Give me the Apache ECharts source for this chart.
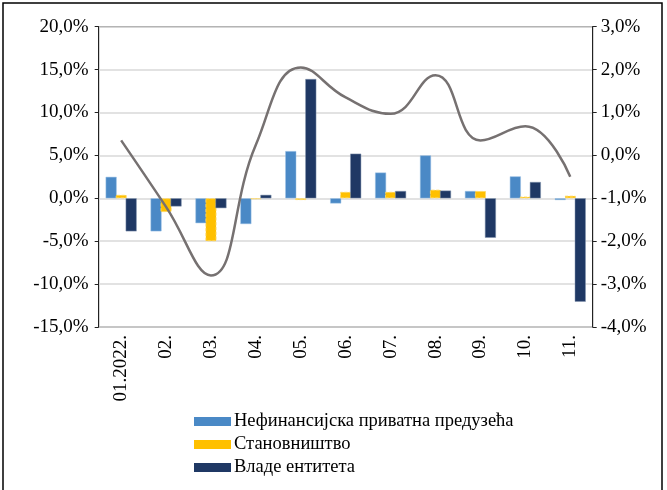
<!DOCTYPE html>
<html>
<head>
<meta charset="utf-8">
<script src="https://cdn.jsdelivr.net/npm/echarts@6/dist/echarts.min.js"></script>
<style>
  html, body { margin: 0; padding: 0; background: #fff; }
  #chart { width: 667px; height: 490px; }
</style>
</head>
<body>
<div id="chart"></div>
<script>
// categories (months)
const months = ['01.2022.', '02.', '03.', '04.', '05.', '06.', '07.', '08.', '09.', '10.', '11.'];
// bars, left axis (%)
const nefinansijska = [2.5, -3.85, -2.9, -3.0, 5.5, -0.6, 3.0, 5.0, 0.85, 2.55, -0.2];
const stanovnistvo = [0.4, -1.6, -5.0, -0.1, -0.2, 0.75, 0.75, 1.0, 0.85, 0.2, 0.3];
const vladeEntiteta = [-3.85, -0.95, -1.15, 0.4, 13.9, 5.2, 0.85, 0.9, -4.6, 1.9, -12.05];
// line, right axis (%)
const ukupno = [0.35, -1.2, -2.8, 0.25, 2.05, 1.35, 0.97, 1.87, 0.35, 0.68, -0.5];

const serif = 'Liberation Serif';
const fmt = v => v.toFixed(1).replace('.', ',') + '%';

const myChart = echarts.init(document.getElementById('chart'));
let option = {
    animation: false,
    textStyle: { fontFamily: serif },
    grid: { left: 98.7, right: 74.3, top: 26.7, bottom: 163, show: true, borderColor: '#222', borderWidth: 1, containLabel: false },
    legend: {
        orient: 'vertical', left: 189, top: 407,
        icon: 'rect', itemWidth: 37, itemHeight: 9, itemGap: 4,
        itemStyle: { borderWidth: 0 },
        textStyle: { fontFamily: serif, fontSize: 18.5, color: '#000', lineHeight: 19, padding: [0, 0, 0, -2] },
        data: ['Нефинансијска приватна предузећа', 'Становништво', 'Владе ентитета']
    },
    graphic: [
        { type: 'rect', shape: { x: 3, y: 3, width: 659, height: 495 }, style: { fill: 'none', stroke: '#000', lineWidth: 1.5 }, silent: true }
    ],
    xAxis: {
        type: 'category', data: months, position: 'bottom',
        axisLine: { show: false }, axisTick: { show: false },
        axisLabel: { rotate: 90, fontFamily: serif, fontSize: 19, color: '#000', margin: 8 }
    },
    yAxis: [
        {
            type: 'value', min: -15, max: 20, interval: 5,
            axisLine: { show: true, lineStyle: { color: '#222' } },
            axisTick: { show: true, length: 4, lineStyle: { color: '#222' } },
            splitLine: { show: true, lineStyle: { color: '#d9d9d9', width: 1.5 } },
            axisLabel: { formatter: fmt, fontFamily: serif, fontSize: 19, color: '#000', margin: 10 }
        },
        {
            type: 'value', min: -4, max: 3, interval: 1,
            axisLine: { show: true, lineStyle: { color: '#222' } },
            axisTick: { show: true, length: 4, lineStyle: { color: '#222' } },
            splitLine: { show: false },
            axisLabel: { formatter: fmt, fontFamily: serif, fontSize: 19, color: '#000', margin: 8 }
        }
    ],
    series: [
        {
            name: 'Нефинансијска приватна предузећа', type: 'bar', data: nefinansijska,
            barWidth: 11, barGap: '-9%',
            itemStyle: { color: '#4a89c6', borderColor: '#9dc3e6', borderWidth: 0.5 }
        },
        {
            name: 'Становништво', type: 'bar', data: stanovnistvo,
            barWidth: 11, barGap: '-9%',
            itemStyle: { color: '#ffc000', borderColor: '#ffd966', borderWidth: 0.8, borderType: 'dashed' }
        },
        {
            name: 'Владе ентитета', type: 'bar', data: vladeEntiteta,
            barWidth: 11, barGap: '-9%',
            itemStyle: { color: '#1f3864', borderColor: '#8497b0', borderWidth: 0.5 }
        },
        {
            name: 'Укупно', type: 'line', yAxisIndex: 1, data: ukupno,
            smooth: 0.45, symbol: 'none',
            lineStyle: { color: '#767171', width: 2.5 }, z: 5
        }
    ]
};
option && myChart.setOption(option);
</script>
</body>
</html>
